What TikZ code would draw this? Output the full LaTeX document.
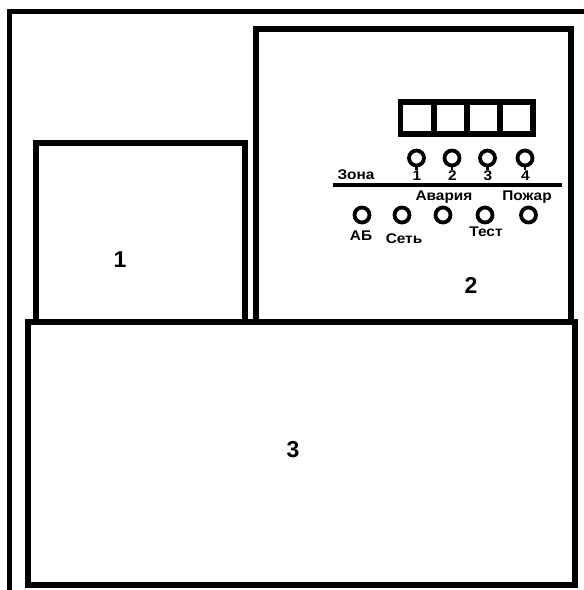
\documentclass[tikz,border=0pt]{standalone}
\usepackage{fontspec}
\setmainfont{Liberation Sans}
\newfontfamily\lblfont[FakeStretch=1.1]{Liberation Sans}
\begin{document}
\begin{tikzpicture}[x=1pt,y=-1pt,
  thick box/.style={line width=5.5pt,line cap=rect},
  lamp/.style={circle,draw,line width=3.8pt,minimum size=15pt,inner sep=0pt},
  small/.style={font=\lblfont\fontsize{14}{16}\selectfont\bfseries,inner sep=0pt},
  big/.style={font=\fontsize{23}{26}\selectfont\bfseries,inner sep=0pt}]
\useasboundingbox (0,0) rectangle (584,590);
\fill[white] (0,0) rectangle (584,590);
% outer frame (open to right and bottom)
\draw[line width=5pt] (9.5,592) -- (9.5,11.5) -- (586,11.5);
% box 1 and box 2
\draw[thick box] (36,322) -- (36,143) -- (245,143) -- (245,322);
\draw[thick box] (256,322) -- (256,29) -- (571,29) -- (571,322);
% box 3
\draw[thick box,fill=white] (28,322) rectangle (575,585);
% display
\draw[line width=5.5pt] (400.5,102) rectangle (533,134);
\foreach \x in {434,467,500} \draw[line width=5.5pt] (\x,102) -- (\x,134);
% zone lamps
\foreach \x/\n [count=\i] in {416.5/1,452/2,487.5/3,525/4}{
  \node[lamp] (z\i) at (\x,158) {};
  \draw[line width=2.5pt] (z\i.south) -- ++(0,3);
  \node[small] (zn\i) at (\x+0.5,176) {\n};
}
\node[small] (zona) at (356,174.5) {Зона};
% separator line
\coordinate (sepL) at (333,185);
\coordinate (sepR) at (562,185);
\draw[line width=4.5pt] (sepL) -- (sepR);
\node[small] (avaria) at (444,197) {Авария};
\node[small] (pozhar) at (527,197) {Пожар};
% lower lamps
\foreach \x [count=\i] in {362,402,443,485,528.5}{
  \node[lamp] (l\i) at (\x,215) {};
}
\node[small] (ab) at (361,236) {АБ};
\node[small] (set) at (404,238.5) {Сеть};
\node[small] (test) at (486,232) {Тест};
% numbers
\node[big] (n1) at (120,260) {1};
\node[big] (n2) at (471,285) {2};
\node[big] (n3) at (293,450) {3};
\end{tikzpicture}
\end{document}
